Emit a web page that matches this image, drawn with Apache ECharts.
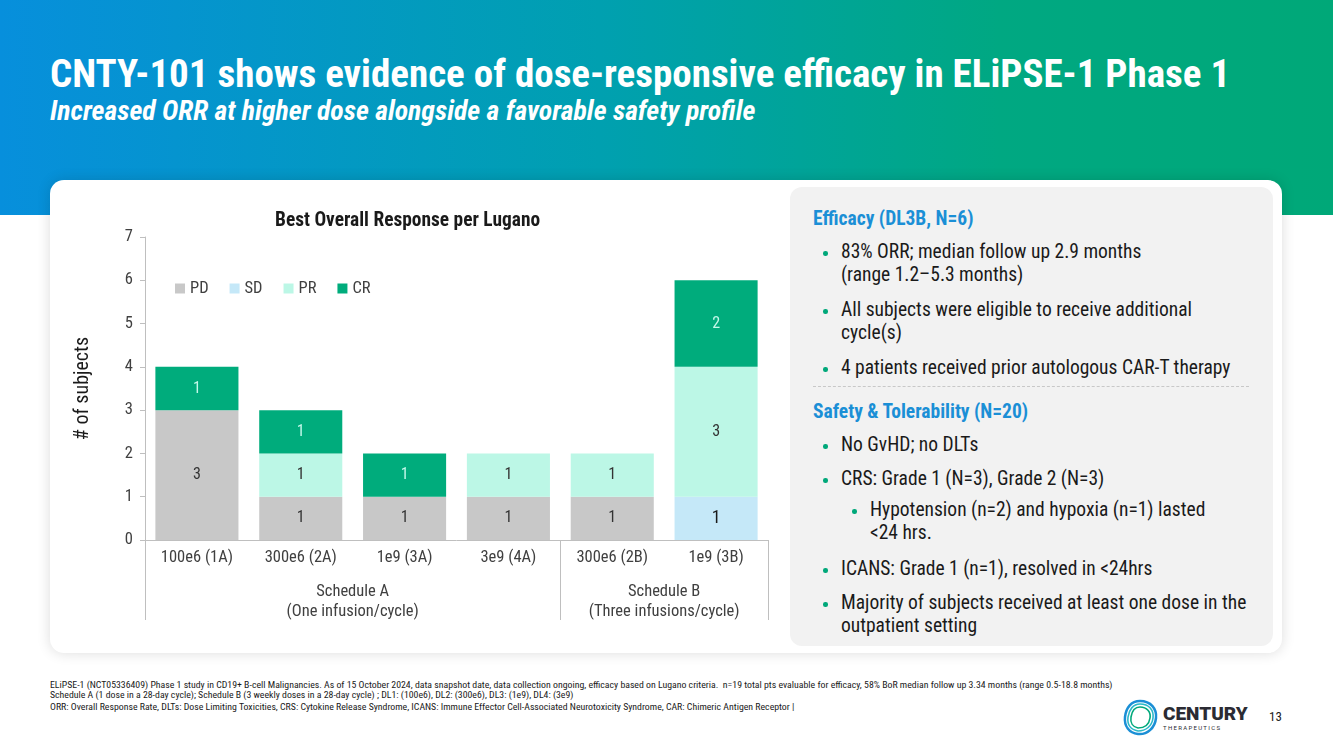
<!DOCTYPE html>
<html>
<head>
<meta charset="utf-8">
<script src="https://cdn.jsdelivr.net/npm/echarts@6/dist/echarts.min.js"></script>
<style>
  html, body { margin:0; padding:0; }
  body { width:1333px; height:749px; overflow:hidden; position:relative; background:#ffffff;
         font-family: "Roboto Condensed", "Liberation Sans Narrow", "DejaVu Sans Condensed", Roboto, sans-serif; }
  #header { position:absolute; left:0; top:0; width:1333px; height:215px;
            background: linear-gradient(90deg, #078fdc 0%, #00a0b0 45%, #00a882 75%, #00a878 100%); }
  #title { position:absolute; left:50px; top:55px; color:#fff; font-weight:bold; font-size:39px; line-height:1; white-space:nowrap; }
  #subtitle { position:absolute; left:50px; top:97px; color:#fff; font-weight:bold; font-style:italic; font-size:27.8px; line-height:1; white-space:nowrap; }
  #card { position:absolute; left:50px; top:180px; width:1232px; height:473px; background:#fff; border-radius:14px;
          box-shadow: 0 0 14px rgba(0,0,0,0.14); }
  #panel { position:absolute; left:790px; top:187px; width:483px; height:459px; background:#f2f2f2; border-radius:12px; }
  #chart { position:absolute; left:50px; top:180px; width:735px; height:470px; }
  .h { position:absolute; left:813px; color:#1b8fd6; font-weight:bold; font-size:19.5px; line-height:23px; white-space:nowrap; }
  .b { position:absolute; color:#1a1a1a; font-size:19.5px; line-height:23px; white-space:nowrap; }
  .dot { position:absolute; width:4.5px; height:4.5px; border-radius:50%; background:#00a87a; }
  #sep { position:absolute; left:813px; top:386px; width:436px; border-top:1px dashed #c8c8c8; }
  .fn { position:absolute; left:50px; font-size:9.8px; line-height:11px; color:#1a1a1a; white-space:nowrap; }
  #pg { position:absolute; left:1269px; top:709px; font-size:13px; color:#1a1a1a; }
</style>
</head>
<body>
<div id="header"></div>
<div id="title">CNTY-101 shows evidence of dose-responsive efficacy in ELiPSE-1 Phase 1</div>
<div id="subtitle">Increased ORR at higher dose alongside a favorable safety profile</div>
<div id="card"></div>
<div id="panel"></div>
<div id="chart"></div>

<div class="h" style="top:207px;">Efficacy (DL3B, N=6)</div>
<div class="dot" style="left:823px;top:251px;"></div>
<div class="b" style="left:841px;top:240px;">83% ORR; median follow up 2.9 months<br>(range 1.2–5.3 months)</div>
<div class="dot" style="left:823px;top:309px;"></div>
<div class="b" style="left:841px;top:298px;">All subjects were eligible to receive additional<br>cycle(s)</div>
<div class="dot" style="left:823px;top:367px;"></div>
<div class="b" style="left:841px;top:356px;">4 patients received prior autologous CAR-T therapy</div>
<div id="sep"></div>
<div class="h" style="top:400px;">Safety &amp; Tolerability (N=20)</div>
<div class="dot" style="left:823px;top:444px;"></div>
<div class="b" style="left:841px;top:433px;">No GvHD; no DLTs</div>
<div class="dot" style="left:823px;top:478px;"></div>
<div class="b" style="left:841px;top:467px;">CRS: Grade 1 (N=3), Grade 2 (N=3)</div>
<div class="dot" style="left:852px;top:509px;"></div>
<div class="b" style="left:870px;top:498px;">Hypotension (n=2) and hypoxia (n=1) lasted<br>&lt;24 hrs.</div>
<div class="dot" style="left:823px;top:568px;"></div>
<div class="b" style="left:841px;top:557px;">ICANS: Grade 1 (n=1), resolved in &lt;24hrs</div>
<div class="dot" style="left:823px;top:602px;"></div>
<div class="b" style="left:841px;top:591px;">Majority of subjects received at least one dose in the<br>outpatient setting</div>

<div class="fn" style="top:679px;">ELiPSE-1 (NCT05336409) Phase 1 study in CD19+ B-cell Malignancies. As of 15 October 2024, data snapshot date, data collection ongoing, efficacy based on Lugano criteria.&nbsp; n=19 total pts evaluable for efficacy, 58% BoR median follow up 3.34 months (range 0.5-18.8 months)</div>
<div class="fn" style="top:689px;">Schedule A (1 dose in a 28-day cycle); Schedule B (3 weekly doses in a 28-day cycle) ; DL1: (100e6), DL2: (300e6), DL3: (1e9), DL4: (3e9)</div>
<div class="fn" style="top:701px;">ORR: Overall Response Rate, DLTs: Dose Limiting Toxicities, CRS: Cytokine Release Syndrome, ICANS: Immune Effector Cell-Associated Neurotoxicity Syndrome, CAR: Chimeric Antigen Receptor |</div>

<svg style="position:absolute;left:1120px;top:698px;" width="140" height="40" viewBox="0 0 140 40">
  <path d="M20 3 C31 3 37 11 36 20 C35 30 27 37 18 36 C9 35 4 28 5 19 C6 10 11 3 20 3 Z" fill="none" stroke="#1b8fd6" stroke-width="2.5"/>
  <path d="M20 6 C29 6 34 12 33 20 C32 28 26 33 18 33 C11 32 7 27 8 19 C9 12 13 6 20 6 Z" fill="none" stroke="#2bb8c8" stroke-width="1.6"/>
  <path d="M20 9 C27 9 31 14 30 20 C29 27 24 30 18 30 C13 29 10 25 11 19 C12 13 15 9 20 9 Z" fill="none" stroke="#00a87a" stroke-width="1.6"/>
  <text x="43" y="22" font-family="Roboto, 'DejaVu Sans', sans-serif" font-weight="900" font-size="19" fill="#2b2b33">CENTURY</text>
  <text x="43" y="32" font-family="Roboto, 'DejaVu Sans', sans-serif" font-size="6" letter-spacing="1.3" fill="#2b2b33">THERAPEUTICS</text>
</svg>
<div id="pg">13</div>

<script>
const categories = ['100e6 (1A)', '300e6 (2A)', '1e9 (3A)', '3e9 (4A)', '300e6 (2B)', '1e9 (3B)'];
const groupLabels = ['Schedule A\n(One infusion/cycle)', 'Schedule B\n(Three infusions/cycle)'];
const groupBounds = [0, 4, 6];      // category boundaries of the schedule groups
const groupCenters = [2, 5];
const pd = [3, 1, 1, 1, 1, 0];
const sd = [0, 0, 0, 0, 0, 1];
const pr = [0, 1, 0, 1, 1, 3];
const cr = [1, 1, 1, 0, 0, 2];
const yTicks = [0, 1, 2, 3, 4, 5, 6, 7];

const FONT = '"Roboto Condensed", "Liberation Sans Narrow", "DejaVu Sans Condensed", Roboto, sans-serif';
const chart = echarts.init(document.getElementById('chart'), null, { renderer: 'canvas' });

function mk(name, data, color, labelColor, size) {
  return {
    name, type: 'bar', stack: 'total', data, barCategoryGap: '20%',
    itemStyle: { color },
    label: { show: true, position: 'inside', color: labelColor, fontSize: size, fontFamily: FONT,
             formatter: p => (p.value ? String(p.value) : '') },
    emphasis: { disabled: true }
  };
}

chart.setOption({
  animation: false,
  textStyle: { fontFamily: FONT },
  graphic: [{ type: 'text', left: 225, top: 32,
              style: { text: 'Best Overall Response per Lugano', font: 'bold 19.4px ' + FONT, fill: '#1a1a1a' } }],
  legend: { left: 120, top: 95, itemWidth: 10, itemHeight: 10, itemGap: 21, icon: 'rect',
            textStyle: { fontSize: 16.5, color: '#404040', fontFamily: FONT },
            data: ['PD', 'SD', 'PR', 'CR'] },
  grid: { left: 95, right: 17, top: 57, bottom: 110 },
  xAxis: [
    { type: 'category', data: categories,
      axisLine: { lineStyle: { color: '#bfbfbf' } },
      axisTick: { length: 31, lineStyle: { color: '#bfbfbf' } },
      axisLabel: { fontSize: 16.5, color: '#404040', margin: 9, fontFamily: FONT } },
    { type: 'value', min: 0, max: 6, position: 'bottom',
      axisLine: { show: false }, splitLine: { show: false },
      axisTick: { show: true, length: 80, customValues: groupBounds, lineStyle: { color: '#bfbfbf' } },
      axisLabel: { customValues: groupCenters, margin: 42, fontSize: 16.5, lineHeight: 20, color: '#404040', fontFamily: FONT,
                   formatter: v => groupLabels[groupCenters.indexOf(v)] } }
  ],
  yAxis: { type: 'value', min: 0, max: 7, interval: 1,
           name: '# of subjects', nameLocation: 'middle', nameGap: 52,
           nameTextStyle: { fontSize: 20, color: '#1a1a1a', fontFamily: FONT },
           axisLine: { show: true, lineStyle: { color: '#bfbfbf' } },
           axisTick: { show: true, length: 5, lineStyle: { color: '#bfbfbf' } },
           splitLine: { show: false },
           axisLabel: { fontSize: 16.5, color: '#404040', margin: 12, fontFamily: FONT,
                        formatter: v => (yTicks.includes(v) ? String(v) : '') } },
  series: [
    mk('PD', pd, '#c8c8c8', '#333333', 16),
    mk('SD', sd, '#c5e8f8', '#1a1a1a', 18),
    mk('PR', pr, '#bcf7e6', '#333333', 16),
    mk('CR', cr, '#00ac7c', '#c4f8ea', 16)
  ]
});
</script>
</body>
</html>
